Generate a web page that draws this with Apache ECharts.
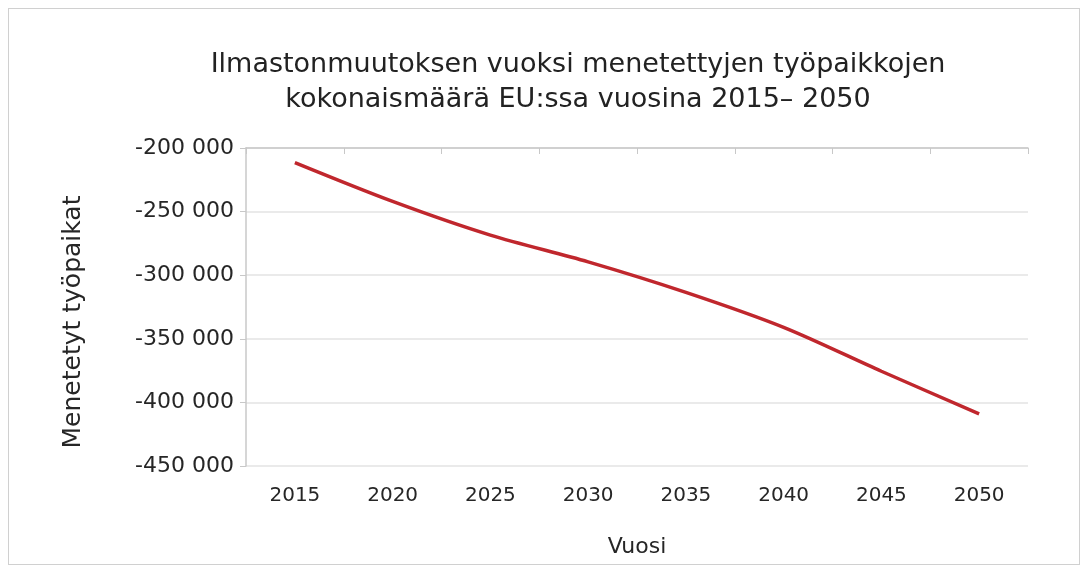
<!DOCTYPE html>
<html>
<head>
<meta charset="utf-8">
<script src="https://cdn.jsdelivr.net/npm/echarts@6/dist/echarts.min.js"></script>
<style>
html,body{margin:0;padding:0;background:#fff;}
#frame{position:absolute;left:8px;top:8px;width:1072px;height:557px;border:1px solid #d0d0d0;box-sizing:border-box;}
#chart{position:absolute;left:0;top:0;width:1083px;height:568px;}
</style>
</head>
<body>
<div id="frame"></div>
<div id="chart"></div>
<script>
const titleText = 'Ilmastonmuutoksen vuoksi menetettyjen työpaikkojen\nkokonaismäärä EU:ssa vuosina 2015– 2050';
const categories = ['2015','2020','2025','2030','2035','2040','2045','2050'];
const lostJobs = [-211500, -242000, -268500, -289500, -313500, -341000, -375500, -409000];
const yTicks = [-450000, -400000, -350000, -300000, -250000, -200000];

const chart = echarts.init(document.getElementById('chart'));
const font = '"DejaVu Sans", "Open Sans", sans-serif';
function fmt(v){
  const s = Math.abs(v).toString().replace(/\B(?=(\d{3})+(?!\d))/g, ' ');
  return (v < 0 ? '-' : '') + s;
}
chart.setOption({
  animation: false,
  title: {
    text: titleText,
    left: 573, top: 42, textAlign: 'center',
    textStyle: {fontFamily: font, fontSize: 27, fontWeight: 'normal', color: '#222', lineHeight: 35}
  },
  grid: {left: 246, right: 55, top: 148, bottom: 102, containLabel: false},
  xAxis: [{
    type: 'category', data: categories, position: 'bottom',
    name: 'Vuosi', nameLocation: 'middle', nameGap: 70,
    nameTextStyle: {fontFamily: font, fontSize: 22, color: '#262626'},
    axisLine: {show: false}, axisTick: {show: false},
    axisLabel: {fontFamily: font, fontSize: 20, color: '#262626', margin: 20}
  }, {
    type: 'category', data: categories, position: 'top',
    axisLine: {show: true, lineStyle: {color: '#c8c8c8', width: 1.5}},
    axisTick: {show: true, inside: true, length: 6, lineStyle: {color: '#c8c8c8'}},
    axisLabel: {show: false}
  }],
  yAxis: {
    type: 'value', min: -450000, max: -200000, interval: 50000,
    name: 'Menetetyt työpaikat', nameLocation: 'middle', nameGap: 160, nameRotate: 90,
    nameTextStyle: {fontFamily: font, fontSize: 25, color: '#262626', padding: [0, 30, 0, 0]},
    axisLine: {show: true, lineStyle: {color: '#c8c8c8', width: 1.5}},
    axisTick: {show: true, length: 6, lineStyle: {color: '#c8c8c8'}},
    splitLine: {show: true, lineStyle: {color: '#e3e3e3', width: 1.5}},
    axisLabel: {fontFamily: font, fontSize: 22, color: '#262626', margin: 12, formatter: fmt}
  },
  series: [{
    type: 'line', data: lostJobs, xAxisIndex: 0,
    smooth: 0.3, symbol: 'none',
    lineStyle: {color: '#c0272d', width: 3.5}
  }]
});
</script>
</body>
</html>
